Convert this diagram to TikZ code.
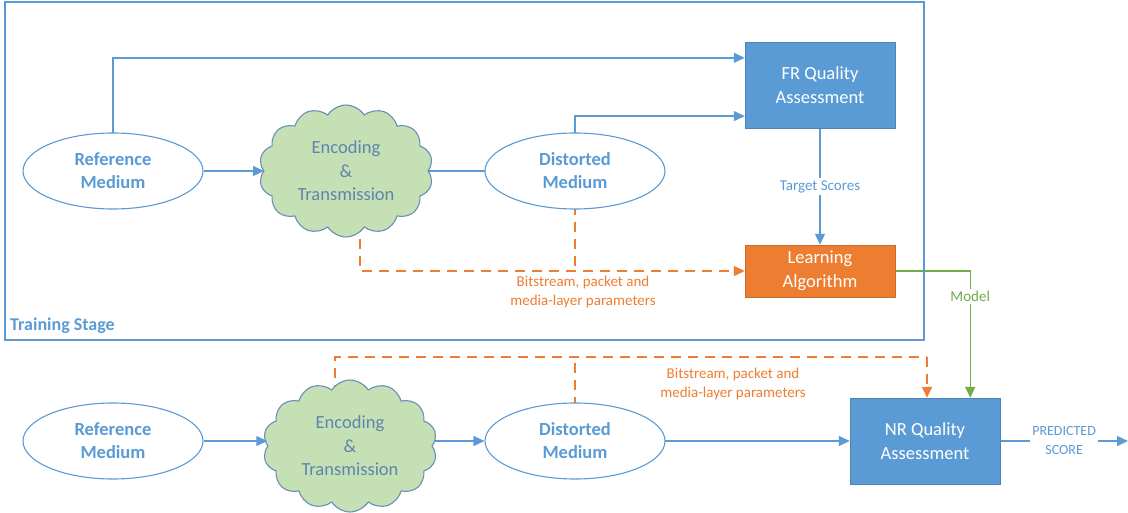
\documentclass[tikz,border=0pt]{standalone}
\usepackage{fontspec}
\setmainfont{Carlito}
\usetikzlibrary{shapes.geometric,shapes.symbols,arrows.meta,calc,backgrounds}
\definecolor{offblue}{HTML}{5B9BD5}
\definecolor{offorange}{HTML}{ED7D31}
\definecolor{offgreen}{HTML}{70AD47}
\definecolor{cloudfill}{HTML}{C5E0B4}
\definecolor{cloudedge}{HTML}{6A8FB5}
\definecolor{cloudtext}{HTML}{5F84AE}
\tikzset{
  medium/.style={ellipse, draw=offblue, line width=1.1pt, fill=white, inner sep=0pt,
    minimum width=180pt, minimum height=76pt, text=offblue,
    font=\fontsize{18.5}{23}\selectfont\bfseries, align=center},
  channel/.style={cloud, cloud puffs=14, cloud puff arc=115, aspect=1.3,
    draw=cloudedge, line width=1.1pt, fill=cloudfill,
    minimum width=174pt, minimum height=132pt, inner sep=-12pt, text=cloudtext,
    font=\fontsize{18.5}{23.5}\selectfont, align=center},
  qbox/.style={rectangle, fill=offblue, draw=offblue!85!black, line width=0.4pt,
    minimum width=150pt, minimum height=86pt, text=white,
    font=\fontsize{18.5}{24}\selectfont, align=center},
  lbox/.style={rectangle, fill=offorange, draw=offorange!85!black, line width=0.4pt,
    minimum width=150pt, minimum height=52pt, text=white,
    font=\fontsize{18.5}{24}\selectfont, align=center},
  bline/.style={draw=offblue, line width=1.3pt},
  oline/.style={draw=offorange, line width=1.4pt, dash pattern=on 10pt off 7pt},
  gline/.style={draw=offgreen, line width=1.3pt},
  tip/.style={-{Triangle[length=11pt,width=10pt]}},
  smalllbl/.style={font=\fontsize{15}{19}\selectfont, align=center, fill=white, inner sep=2pt},
}
\begin{document}
\begin{tikzpicture}[x=1pt, y=-1pt]
\useasboundingbox (0,0) rectangle (1128,513);

% training stage frame
\draw[draw=offblue, line width=2.2pt] (5,2) rectangle (924,340);
\node[anchor=south west, text=offblue, font=\fontsize{18}{20}\selectfont\bfseries, inner sep=0pt]
  (stage) at (10,334) {Training Stage};

% ---- training stage nodes
\node[medium]  (refT)   at (113,171) {Reference\\Medium};
\node[channel] (cloudT) at (346,171) {Encoding\\\&\\Transmission};
\node[medium]  (distT)  at (575,171) {Distorted\\Medium};
\node[qbox]    (fr)     at (820,85)  {FR Quality\\Assessment};
\node[lbox]    (learn)  at (820,271) {Learning\\Algorithm};

% ---- test stage nodes
\node[medium]  (refB)   at (113,441) {Reference\\Medium};
\node[channel] (cloudB) at (350,446) {Encoding\\\&\\Transmission};
\node[medium]  (distB)  at (575,441) {Distorted\\Medium};
\node[qbox]    (nr)     at (925,441) {NR Quality\\Assessment};
\coordinate (out) at (1128,441);
\coordinate (busB) at (927,357);
\coordinate (inT) at (264,171);

% arrows into the clouds stay in front of the puffs
\draw[bline,tip] (refT.east) -- (inT);
\draw[bline,tip] (refB.east) -- (refB.east -| cloudB.west);

\begin{scope}[on background layer]
  % training connectors
  \draw[bline,tip] (refT.center) |- ($(fr.north west)!0.186!(fr.south west)$);
  \draw[bline] (cloudT.center) -- (distT.center);
  \draw[bline,tip] (distT.center) |- ($(fr.north west)!0.86!(fr.south west)$);
  \draw[bline,tip] (fr.south) -- (learn.north)
    node[pos=0.5, smalllbl, text=offblue] (ts) {Target Scores};
  \draw[oline,tip] ([xshift=14pt]cloudT.center) |- (learn.west);
  \draw[oline] (distT.center) -- (distT.center |- learn.west);
  \node[smalllbl, text=offorange, fill=none] (pT) at (583,292)
    {Bitstream, packet and\\media-layer parameters};
  \draw[gline,tip] (learn.east) -| ([xshift=-30pt]nr.north east)
    node[pos=0.6, smalllbl, text=offgreen] (mdl) {Model};

  % test connectors
  \draw[bline,tip] (distB.west -| cloudB.center) -- (distB.west);
  \draw[bline,tip] (distB.center) -- (nr.west);
  \draw[bline,tip] (nr.east) -- (out)
    node[pos=0.5, smalllbl, text=offblue, font=\fontsize{14}{19}\selectfont] (ps) {PREDICTED\\SCORE};
  \draw[oline] ([xshift=-15pt]cloudB.center) |- (busB);
  \draw[oline,tip] (busB) -- (busB |- nr.north);
  \draw[oline] (distB.center) -- (distB.center |- busB);
  \node[smalllbl, text=offorange, fill=none] (pB) at (733,384)
    {Bitstream, packet and\\media-layer parameters};
\end{scope}
\end{tikzpicture}
\end{document}
